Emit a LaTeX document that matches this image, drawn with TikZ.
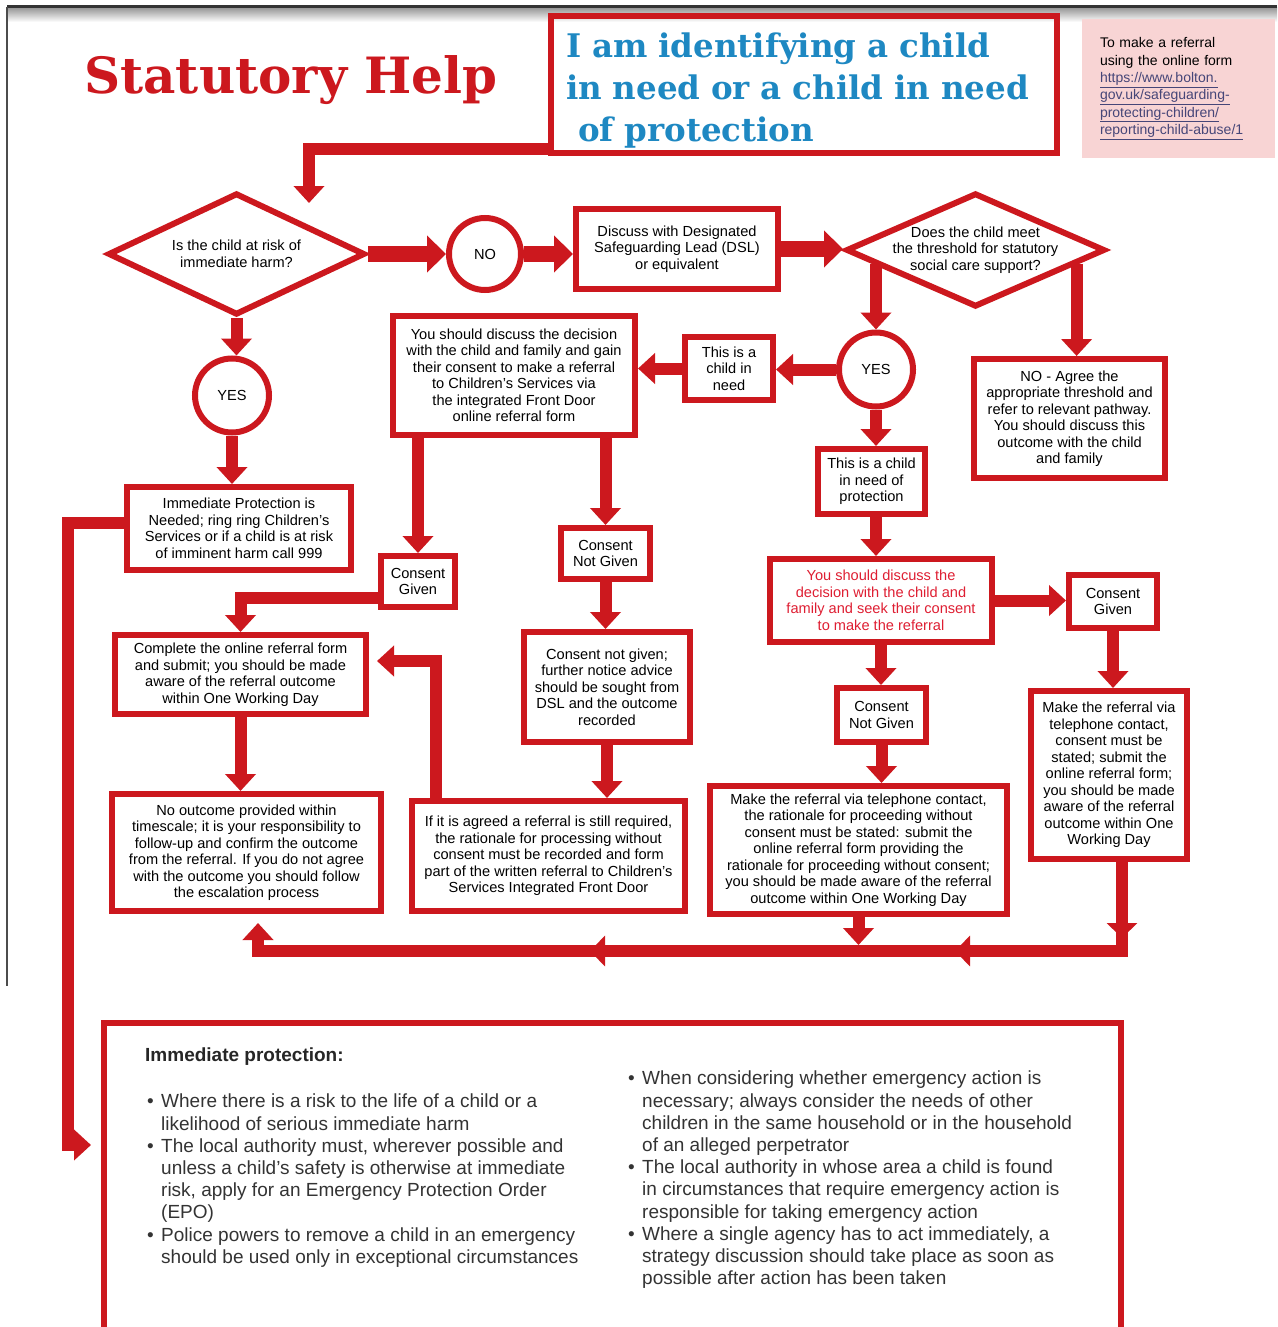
\documentclass[tikz,border=0pt]{standalone}
\usepackage{fontspec}
\setmainfont{Liberation Sans}
\newfontfamily\slabfont{DejaVu Serif}
\usetikzlibrary{shapes.geometric,arrows.meta,decorations.markings}
\definecolor{sred}{RGB}{204,24,30}
\definecolor{stext}{RGB}{222,30,50}
\definecolor{sblue}{RGB}{30,136,194}
\definecolor{spink}{RGB}{248,212,212}
\definecolor{slink}{RGB}{70,70,120}
\newcommand{\boxfont}{\fontsize{14.6}{16.5}\selectfont}
\newcommand{\listfont}{\fontsize{19}{22.2}\selectfont}
\newcommand{\bitem}{\makebox[14pt][l]{\textbullet}}
\newcommand{\bgap}{\hspace*{14pt}}
\tikzstyle{box}=[rectangle,
	draw=sred,
	line width=6pt,
	align=center,
	inner sep=0pt,
	font=\boxfont]
\tikzstyle{yesno}=[circle,
	draw=sred,
	line width=6pt,
	inner sep=0pt,
	font=\boxfont]
\tikzstyle{decision}=[diamond,
	draw=sred,
	line width=6pt,
	inner sep=0pt]
\tikzstyle{decisiontext}=[align=center,
	inner sep=0pt,
	font=\boxfont]
\tikzstyle{flow}=[draw=sred,
	line width=12pt,
	-{Triangle[width=30pt,length=17pt]}]
\tikzstyle{bigflow}=[draw=sred,
	line width=16pt,
	-{Triangle[width=36pt,length=19pt]}]
\tikzstyle{backflow}=[draw=sred,
	line width=12pt,
	-{Triangle[width=30pt,length=17pt]},
	postaction={decorate},
	decoration={markings,
		mark=at position 76pt with {\arrow{Triangle[width=30pt,length=15pt]}},
		mark=at position 256pt with {\arrow{Triangle[width=30pt,length=15pt]}},
		mark=at position 621pt with {\arrow{Triangle[width=30pt,length=15pt]}}}]

\begin{document}
\begin{tikzpicture}[x=1pt,y=-1pt]
				\useasboundingbox (0,0) rectangle (1277,1327);
				\shade[top color=black!40, bottom color=white] (8,8) rectangle (1277,22);
				\draw[black!80, line width=3pt] (7,7) -- (1277,7);
				\draw[black!70, line width=1.2pt] (7,7) -- (7,986);

				\node (title) [font=\slabfont\bfseries\fontsize{50}{50}\selectfont, text=sred] at (291,80) {Statutory Help};
				\node (head) [rectangle, draw=sred, line width=6pt, minimum width=506pt, minimum height=137pt, text width=476pt, inner xsep=15pt, align=left, text=sblue, font=\slabfont\bfseries\fontsize{32.5}{42}\selectfont] at (804,84.5) {\rule{0pt}{36pt}I am identifying a child\\in need or a child in need\\\hspace*{12pt}of protection};
				\node (refbox) [rectangle, fill=spink, minimum width=193pt, minimum height=139pt, text width=157pt, inner xsep=18pt, align=left, font=\fontsize{14}{17.4}\selectfont] at (1178.5,88.5) {To make a referral\\using the online form\\\textcolor{slink}{\underline{https://www.bolton.}}\\\textcolor{slink}{\underline{gov.uk/safeguarding-}}\\\textcolor{slink}{\underline{protecting-children/}}\\\textcolor{slink}{\underline{reporting-child-abuse/1}}};

				\node (d1) [decision, minimum width=257pt, minimum height=122pt, label={[decisiontext]center:{Is the child at risk of\\immediate harm?}}] at (236.5,254) {};
				\node (no) [yesno, minimum size=72pt] at (485,254) {NO};
				\node (dsl) [box, minimum width=202pt, minimum height=80pt] at (677,249) {Discuss with Designated\\Safeguarding Lead (DSL)\\or equivalent};
				\node (d2) [decision, minimum width=259pt, minimum height=114pt, label={[decisiontext]center:{Does the child meet\\the threshold for statutory\\social care support?}}] at (975.5,250) {};

				\node (yes1) [yesno, minimum size=74pt] at (232,395.5) {YES};
				\node (yes2) [yesno, minimum size=74pt] at (876,369.5) {YES};
				\node (cin) [box, minimum width=88pt, minimum height=63pt] at (729,368.5) {This is a\\child in\\need};
				\node (discuss) [box, minimum width=242pt, minimum height=119pt] at (514,375.5) {You should discuss the decision\\with the child and family and gain\\their consent to make a referral\\to Children's Services via\\the integrated Front Door\\online referral form};
				\node (nobox) [box, minimum width=191pt, minimum height=119pt] at (1069.5,418.5) {NO - Agree the\\appropriate threshold and\\refer to relevant pathway.\\You should discuss this\\outcome with the child\\and family};
				\node (cinp) [box, minimum width=107pt, minimum height=65pt] at (871.5,481.5) {This is a child\\in need of\\protection};

				\node (immed) [box, minimum width=224pt, minimum height=83pt] at (239,528.5) {Immediate Protection is\\Needed; ring ring Children's\\Services or if a child is at risk\\of imminent harm call 999};
				\node (cg1) [box, minimum width=74pt, minimum height=51pt] at (418,581.5) {Consent\\Given};
				\node (cng1) [box, minimum width=89pt, minimum height=51pt] at (605.5,553.5) {Consent\\Not Given};
				\node (seek) [box, minimum width=222pt, minimum height=83pt, text=stext] at (881,600.5) {You should discuss the\\decision with the child and\\family and seek their consent\\to make the referral};
				\node (cg2) [box, minimum width=88pt, minimum height=53pt] at (1113,601.5) {Consent\\Given};

				\node (complete) [box, minimum width=251pt, minimum height=79pt] at (240.5,674.5) {Complete the online referral form\\and submit; you should be made\\aware of the referral outcome\\within One Working Day};
				\node (notgiven) [box, minimum width=166pt, minimum height=110pt] at (607,687) {Consent not given;\\further notice advice\\should be sought from\\DSL and the outcome\\recorded};
				\node (cng2) [box, minimum width=89pt, minimum height=54pt] at (881.5,715) {Consent\\Not Given};
				\node (tel2) [box, minimum width=156pt, minimum height=168pt] at (1109,775) {Make the referral via\\telephone contact,\\consent must be\\stated; submit the\\online referral form;\\you should be made\\aware of the referral\\outcome within One\\Working Day};

				\node (nooutcome) [box, minimum width=269pt, minimum height=117pt] at (246.5,852.5) {No outcome provided within\\timescale; it is your responsibility to\\follow-up and confirm the outcome\\from the referral. If you do not agree\\with the outcome you should follow\\the escalation process};
				\node (agreed) [box, minimum width=273pt, minimum height=110pt] at (548.5,856) {If it is agreed a referral is still required,\\the rationale for processing without\\consent must be recorded and form\\part of the written referral to Children's\\Services Integrated Front Door};
				\node (tel1) [box, minimum width=297pt, minimum height=128pt] at (858.5,850) {Make the referral via telephone contact,\\the rationale for proceeding without\\consent must be stated: submit the\\online referral form providing the\\rationale for proceeding without consent;\\you should be made aware of the referral\\outcome within One Working Day};

				\node (info) [rectangle, draw=sred, line width=6pt, minimum width=1017pt, minimum height=314pt] at (612.5,1180) {};
				\node (infohead) [anchor=west, inner sep=0pt, font=\fontsize{19}{22.2}\selectfont\bfseries, text=black!85] at (145,1057) {Immediate protection:};
				\node (leftlist) [anchor=north west, inner sep=0pt, align=left, font=\listfont, text=black!80] at (147,1094) {\bitem Where there is a risk to the life of a child or a\\\bgap likelihood of serious immediate harm\\\bitem The local authority must, wherever possible and\\\bgap unless a child's safety is otherwise at immediate\\\bgap risk, apply for an Emergency Protection Order\\\bgap (EPO)\\\bitem Police powers to remove a child in an emergency\\\bgap should be used only in exceptional circumstances};
				\node (rightlist) [anchor=north west, inner sep=0pt, align=left, font=\listfont, text=black!80] at (628,1071) {\bitem When considering whether emergency action is\\\bgap necessary; always consider the needs of other\\\bgap children in the same household or in the household\\\bgap of an alleged perpetrator\\\bitem The local authority in whose area a child is found\\\bgap in circumstances that require emergency action is\\\bgap responsible for taking emergency action\\\bitem Where a single agency has to act immediately, a\\\bgap strategy discussion should take place as soon as\\\bgap possible after action has been taken};

				\coordinate (hd) at (309,203);
				\draw[flow] ([yshift=-64pt]head.west) -| (hd);
				\draw[bigflow] (d1.east) -- (no.west);
				\draw[bigflow] (no.east) -- (no.east -| dsl.west);
				\draw[bigflow] (dsl.east) -- (dsl.east -| d2.west);
				\draw[flow] (d1.south) -- (d1.south |- yes1.north);
				\draw[flow] (yes1.south) -- (yes1.south |- immed.north);
				\draw[flow] (yes2.north |- d2.-172) -- (yes2.north);
				\draw[flow] (d2.-8) -- (d2.-8 |- nobox.north);
				\draw[flow] (yes2.west) -- (yes2.west -| cin.east);
				\draw[flow] (cin.west) -- (cin.west -| discuss.east);
				\draw[flow] (yes2.south) -- (yes2.south |- cinp.north);
				\draw[flow] (cinp.south -| yes2.south) -- (yes2.south |- seek.north);
				\draw[flow] (seek.east) -- (seek.east -| cg2.west);
				\draw[flow] (seek.south) -- (seek.south |- cng2.north);
				\draw[flow] (cng2.south) -- (cng2.south |- tel1.north);
				\draw[flow] (cg2.south) -- (cg2.south |- tel2.north);
				\draw[flow] ([xshift=-96pt]discuss.south) -- (cg1.north);
				\draw[flow] ([xshift=91.5pt]discuss.south) -- (cng1.north);
				\draw[flow] ([yshift=-16pt]cg1.west) -| (complete.north);
				\draw[flow] (complete.south) -- (complete.south |- nooutcome.north);
				\draw[flow] (cng1.south) -- (cng1.south |- notgiven.north);
				\draw[flow] (notgiven.south) -- (notgiven.south |- agreed.north);
				\draw[flow] ([xshift=-112.5pt]agreed.north) |- ([xshift=8pt,yshift=13.5pt]complete.east);
				\draw[flow] ([yshift=6pt]immed.west) -- ++(-56,0) |- ([xshift=-10pt,yshift=35pt]info.west);
				\draw[backflow] ([xshift=13pt]tel2.south) -- ++(0,89) -| ([xshift=11.5pt,yshift=-9pt]nooutcome.south);
				\draw[flow] (tel1.south) -- ++(0,28);
			\end{tikzpicture}
\end{document}
